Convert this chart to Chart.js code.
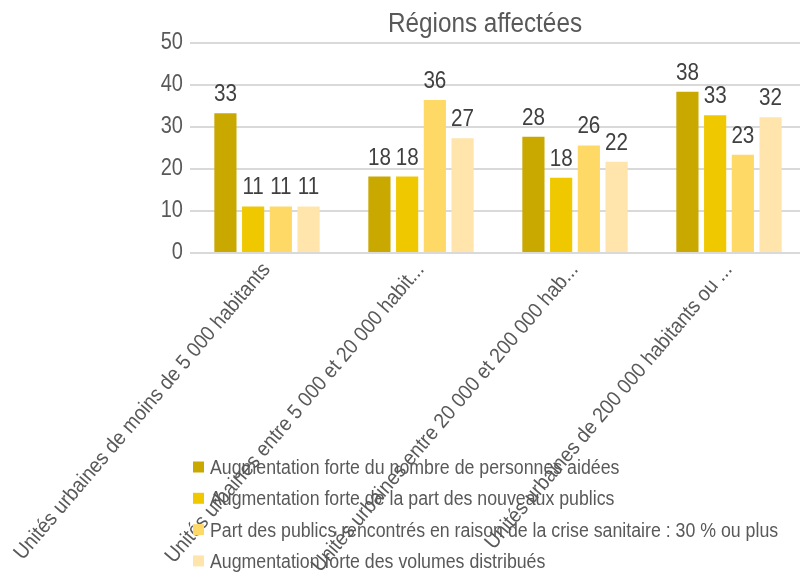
<!DOCTYPE html>
<html>
<head>
<meta charset="utf-8">
<script src="https://cdn.jsdelivr.net/npm/chart.js@4"></script>
<style>
  html, body { margin: 0; padding: 0; background: #fff; }
  #cadre { width: 800px; height: 578px; overflow: hidden; position: relative; }
  canvas { display: block; }
</style>
</head>
<body>
<div id="cadre"><canvas id="graphique" width="806" height="578"></canvas></div>
<script>
// Catégories (étiquettes tronquées comme dans l'original)
const categories = [
  "Unités urbaines de moins de 5 000 habitants",
  "Unités urbaines entre 5 000 et 20 000 habit...",
  "Unités urbaines entre 20 000 et 200 000 hab...",
  "Unités urbaines de 200 000 habitants ou ..."
];
const nomsSeries = [
  "Augmentation forte du nombre de personnes aidées",
  "Augmentation forte de la part des nouveaux publics",
  "Part des publics rencontrés en raison de la crise sanitaire : 30 % ou plus",
  "Augmentation forte des volumes distribués"
];
const personnesAidees = [33.3, 18.2, 27.7, 38.4];
const nouveauxPublics = [11.1, 18.2, 17.9, 32.8];
const criseSanitaire = [11.1, 36.4, 25.6, 23.4];
const volumesDistribues = [11.1, 27.3, 21.7, 32.3];
const graduationsY = [0, 10, 20, 30, 40, 50];
const titre = "Régions affectées";

const couleurs = ["#c9a800", "#f0c800", "#ffd966", "#ffe5ab"];
const police = '"Liberation Sans", Arial, sans-serif';

// texte un peu resserré (police type "narrow")
function texte(ctx, str, x, y, taille, sx, align, base, couleur, angle) {
  ctx.save();
  ctx.translate(x, y);
  if (angle) ctx.rotate(angle);
  ctx.scale(sx, 1);
  ctx.font = taille + "px " + police;
  ctx.textAlign = align;
  ctx.textBaseline = base;
  ctx.fillStyle = couleur;
  ctx.fillText(str, 0, 0);
  ctx.restore();
}

const textes = {
  id: "textes",
  afterDraw(chart) {
    const ctx = chart.ctx;
    const sx = chart.scales.x, sy = chart.scales.y;

    texte(ctx, titre, 485, 32, 27, 0.9, "center", "alphabetic", "#595959");

    graduationsY.forEach(v => {
      texte(ctx, String(v), 183, sy.getPixelForValue(v), 23, 0.87, "right", "middle", "#595959");
    });

    // valeurs au-dessus des barres
    chart.data.datasets.forEach((ds, i) => {
      chart.getDatasetMeta(i).data.forEach((barre, j) => {
        texte(ctx, String(Math.round(ds.data[j])), barre.x, barre.y - 12, 24, 0.86, "center", "alphabetic", "#404040");
      });
    });

    // étiquettes de l'axe des catégories, inclinées
    categories.forEach((c, i) => {
      texte(ctx, c, sx.getPixelForValue(i) + 4, 270, 21, 0.92, "right", "alphabetic", "#595959", -49.5 * Math.PI / 180);
    });

    // légende (chevauche les étiquettes comme dans l'original)
    nomsSeries.forEach((nom, i) => {
      const base = 474 + i * 31.3;
      ctx.fillStyle = couleurs[i];
      ctx.fillRect(193, base - 12.5, 11, 11);
      texte(ctx, nom, 210, base, 19.5, 0.91, "left", "alphabetic", "#595959");
    });
  }
};

const series = [personnesAidees, nouveauxPublics, criseSanitaire, volumesDistribues];

new Chart(document.getElementById("graphique"), {
  type: "bar",
  data: {
    labels: categories,
    datasets: series.map((valeurs, i) => ({
      label: nomsSeries[i],
      data: valeurs,
      backgroundColor: couleurs[i],
      categoryPercentage: 0.72,
      barPercentage: 0.8
    }))
  },
  options: {
    responsive: false,
    animation: false,
    devicePixelRatio: 1,
    layout: { padding: { left: 0, right: 0, top: 43, bottom: 0 } },
    plugins: {
      legend: { display: false },
      tooltip: { enabled: false },
      title: { display: false }
    },
    scales: {
      x: {
        grid: { display: false, drawTicks: false },
        border: { display: false },
        ticks: { display: false },
        afterFit(scale) { scale.height = 325; }
      },
      y: {
        min: 0,
        max: 50,
        afterBuildTicks(scale) { scale.ticks = graduationsY.map(v => ({ value: v })); },
        grid: { color: "#d9d9d9", lineWidth: 2, drawTicks: false },
        border: { display: false },
        ticks: { display: false },
        afterFit(scale) { scale.width = 190; }
      }
    }
  },
  plugins: [textes]
});
</script>
</body>
</html>
